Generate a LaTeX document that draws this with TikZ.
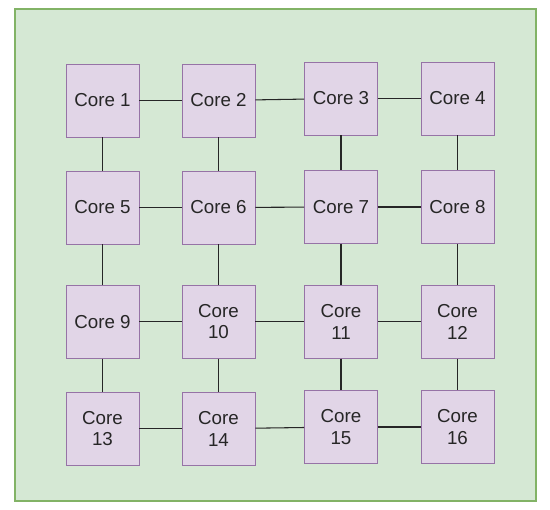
\documentclass[tikz,border=0pt]{standalone}
\usepackage{xcolor}
\usepackage{fontspec}
\setmainfont{Liberation Sans}
\definecolor{meshgreen}{RGB}{213, 232, 212}
\definecolor{meshgreenline}{RGB}{130, 179, 102}
\definecolor{corepurple}{RGB}{225, 213, 231}
\definecolor{corepurpleline}{RGB}{150, 115, 166}

\begin{document}
\begin{tikzpicture}[x=0.03cm, y=0.03cm,
		core/.style={rectangle, draw=corepurpleline, fill=corepurple, line width=0.8pt, minimum width=2.19cm, minimum height=2.19cm, align=center, font=\fontsize{16}{18.5}\selectfont, text=black!85},
		link/.style={line width=0.9pt, black!85}]
	\useasboundingbox (0,0) rectangle (550,510);
	\draw[draw=meshgreenline, fill=meshgreen, line width=0.9pt] (15,9) rectangle (536,501);
	
	\node[core] (c1) at (102.5,409.5) {Core 1};
	\node[core] (c2) at (218.5,409.5) {Core 2};
	\node[core] (c3) at (341,411.5) {Core 3};
	\node[core] (c4) at (457.5,411.5) {Core 4};
	\node[core] (c5) at (102.5,302.5) {Core 5};
	\node[core] (c6) at (218.5,302.5) {Core 6};
	\node[core] (c7) at (341,303) {Core 7};
	\node[core] (c8) at (457.5,303) {Core 8};
	\node[core] (c9) at (102.5,188.3) {Core 9};
	\node[core] (c10) at (218.5,188.3) {Core\\10};
	\node[core] (c11) at (341,188.3) {Core\\11};
	\node[core] (c12) at (457.5,188.3) {Core\\12};
	\node[core] (c13) at (102.5,81.3) {Core\\13};
	\node[core] (c14) at (218.5,81.3) {Core\\14};
	\node[core] (c15) at (341,83) {Core\\15};
	\node[core] (c16) at (457.5,83) {Core\\16};
	
	% horizontal links
	\draw[link] (c1) -- (c2);
	\draw[link] (c2) -- (c3);
	\draw[link] (c3) -- (c4);
	\draw[link] (c5) -- (c6);
	\draw[link] (c6) -- (c7);
	\draw[link] (c7) -- (c8);
	\draw[link] (c9) -- (c10);
	\draw[link] (c10) -- (c11);
	\draw[link] (c11) -- (c12);
	\draw[link] (c13) -- (c14);
	\draw[link] (c14) -- (c15);
	\draw[link] (c15) -- (c16);
	% vertical links
	\draw[link] (c1) -- (c5);
	\draw[link] (c5) -- (c9);
	\draw[link] (c9) -- (c13);
	\draw[link] (c2) -- (c6);
	\draw[link] (c6) -- (c10);
	\draw[link] (c10) -- (c14);
	\draw[link] (c3) -- (c7);
	\draw[link] (c7) -- (c11);
	\draw[link] (c11) -- (c15);
	\draw[link] (c4) -- (c8);
	\draw[link] (c8) -- (c12);
	\draw[link] (c12) -- (c16);
\end{tikzpicture}
\end{document}
